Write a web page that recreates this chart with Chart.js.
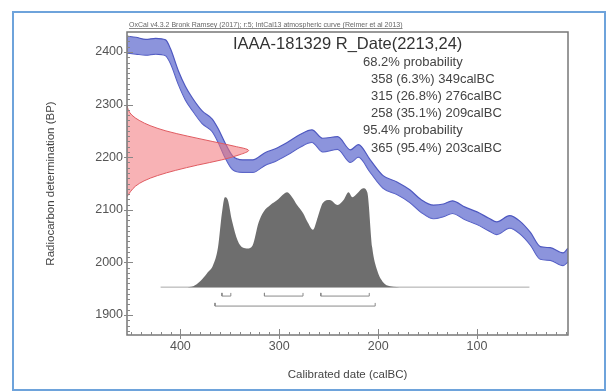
<!DOCTYPE html>
<html>
<head>
<meta charset="utf-8">
<title>IAAA-181329 R_Date(2213,24)</title>
<script src="https://cdn.jsdelivr.net/npm/chart.js@4.4.1/dist/chart.umd.min.js"></script>
<style>
  html, body { margin: 0; padding: 0; background: #fff; }
  canvas { display: block; }
</style>
</head>
<body>
<canvas id="calChart" width="608" height="392"></canvas>
<script>
// Curva de calibración IntCal13 (calBC, BP, error 1 sigma)
var curveCal = [454, 445, 435, 425, 415, 410, 402, 395, 388, 378, 368, 362, 355, 347, 337, 327, 314, 304, 292, 279, 267, 256, 241, 228, 220, 208, 195, 181, 168, 157, 144, 134, 125, 112, 100, 88, 80, 67, 57, 46, 36, 26, 13, 8];
var curveBP = [2414, 2412, 2409, 2411, 2408, 2392, 2351, 2322, 2301, 2276, 2261, 2242, 2214, 2189, 2183, 2183, 2197, 2204, 2216, 2231, 2240, 2223, 2227, 2202, 2212, 2183, 2153, 2141, 2126, 2108, 2096, 2099, 2105, 2093, 2084, 2072, 2065, 2077, 2067, 2045, 2018, 2016, 2006, 2014];
var curveErr = [16, 16, 15, 15, 15, 14, 13, 13, 12, 12, 12, 13, 14, 13, 12, 12, 12, 12, 12, 12, 12, 13, 12, 12, 12, 12, 12, 12, 12, 12, 13, 12, 12, 12, 12, 12, 12, 12, 12, 12, 12, 12, 12, 13];

// Fecha radiocarbónica R_Date(2213,24): probabilidad relativa por nivel BP
var dateBP = [2300, 2290, 2280, 2270, 2260, 2250, 2240, 2230, 2220, 2213, 2205, 2195, 2185, 2175, 2165, 2155, 2145, 2135, 2125];
var dateProb = [0, 0.01, 0.04, 0.1, 0.19, 0.32, 0.5, 0.7, 0.9, 1.0, 0.93, 0.78, 0.58, 0.4, 0.25, 0.14, 0.07, 0.03, 0];

// Distribución calibrada (calBC, probabilidad relativa)
var postCal = [420, 395, 387, 380, 373, 367, 362, 358, 355, 352, 348, 342, 337, 332, 327, 321, 316, 309, 302, 297, 292, 287, 282, 276, 271, 266, 261, 256, 249, 241, 235, 230, 226, 221, 215, 211, 206, 201, 195, 188, 175, 47];
var postProb = [0, 0, 0.01, 0.06, 0.14, 0.22, 0.40, 0.75, 0.91, 0.88, 0.68, 0.47, 0.40, 0.39, 0.42, 0.65, 0.76, 0.83, 0.88, 0.93, 0.96, 0.91, 0.83, 0.75, 0.65, 0.58, 0.71, 0.85, 0.88, 0.83, 0.88, 0.96, 0.91, 0.95, 1.0, 0.96, 0.40, 0.17, 0.05, 0.01, 0, 0];
var postBase = [420, 47];

// Rangos calibrados
var range68 = [[358, 349], [315, 276], [258, 209]];
var range95 = [[365, 203]];

// Ticks y textos
var xTicks = [400, 300, 200, 100];
var yTicks = [1900, 2000, 2100, 2200, 2300, 2400];
var headerText = 'OxCal v4.3.2 Bronk Ramsey (2017); r:5; IntCal13 atmospheric curve (Reimer et al 2013)';
var titleText = 'IAAA-181329 R_Date(2213,24)';
var summaryLines = ['68.2% probability', '358 (6.3%) 349calBC', '315 (26.8%) 276calBC', '258 (35.1%) 209calBC', '95.4% probability', '365 (95.4%) 203calBC'];

// Escalas y dibujo
var xMin = 8, xMax = 454, yMin = 1862, yMax = 2438;
var dateWidth = 123;          // ancho del pico de la fecha en años cal
var postBaseBP = 1953, postScaleBP = 188;
var level68 = 1936, level95 = 1917, bracketTick = 6;
var FONT = "'Liberation Sans', Arial, sans-serif";

var upper = curveCal.map(function (c, i) { return { x: c, y: curveBP[i] + curveErr[i] }; });
var lower = curveCal.map(function (c, i) { return { x: c, y: curveBP[i] - curveErr[i] }; });
var dateShape = dateBP.map(function (b, i) { return { x: xMax - dateProb[i] * dateWidth, y: b }; });
var post = postCal.map(function (c, i) { return { x: c, y: postBaseBP + postProb[i] * postScaleBP }; });

function bracket(r, level) {
    return {
        data: [
            { x: r[0], y: level + bracketTick }, { x: r[0], y: level },
            { x: r[1], y: level }, { x: r[1], y: level + bracketTick }
        ],
        borderColor: '#8a8a8a', borderWidth: 1, fill: false, order: 1
    };
}

var datasets = [
    { data: dateShape, borderColor: '#e05a60', borderWidth: 1, backgroundColor: 'rgba(242,115,120,0.55)', fill: 'shape', tension: 0.35, order: 2 },
    { data: upper, borderColor: 'rgba(78,88,192,1)', borderWidth: 1.2, backgroundColor: 'rgba(115,125,212,0.82)', fill: '+1', cubicInterpolationMode: 'monotone', order: 3 },
    { data: lower, borderColor: 'rgba(78,88,192,1)', borderWidth: 1.2, fill: false, cubicInterpolationMode: 'monotone', order: 3 },
    { data: post, borderWidth: 0, borderColor: 'rgba(0,0,0,0)', backgroundColor: '#6e6e6e', fill: { value: postBaseBP }, cubicInterpolationMode: 'monotone', order: 4 },
    { data: postBase.map(function (c) { return { x: c, y: postBaseBP }; }), borderColor: '#a8a8a8', borderWidth: 1, fill: false, order: 5 }
];
range68.forEach(function (r) { datasets.push(bracket(r, level68)); });
range95.forEach(function (r) { datasets.push(bracket(r, level95)); });

// Marco, marcas menores y textos
var oxcalDecor = {
    id: 'oxcalDecor',
    beforeDraw: function (chart) {
        var ctx = chart.ctx;
        ctx.save();
        ctx.fillStyle = '#fff';
        ctx.fillRect(0, 0, chart.width, chart.height);
        ctx.strokeStyle = '#6ea3db';
        ctx.lineWidth = 2;
        ctx.strokeRect(13, 12, 592, 378);
        ctx.restore();
    },
    afterDraw: function (chart) {
        var ctx = chart.ctx, a = chart.chartArea, xs = chart.scales.x, ys = chart.scales.y;
        ctx.save();
        ctx.strokeStyle = '#777';
        ctx.lineWidth = 1.5;
        ctx.strokeRect(a.left, a.top, a.right - a.left, a.bottom - a.top);

        ctx.lineWidth = 1;
        ctx.strokeStyle = '#888';
        for (var v = 1870; v <= 2430; v += 10) {
            var py = Math.round(ys.getPixelForValue(v)) + 0.5;
            var major = v % 100 === 0;
            ctx.beginPath();
            ctx.moveTo(a.left - (major ? 3 : 0), py);
            ctx.lineTo(a.left + (major ? 6 : 3), py);
            ctx.stroke();
        }
        for (var c = 10; c <= 450; c += 10) {
            var px = Math.round(xs.getPixelForValue(c)) + 0.5;
            var big = c % 100 === 0;
            ctx.beginPath();
            ctx.moveTo(px, a.bottom + (big ? 4 : 0));
            ctx.lineTo(px, a.bottom - (big ? 6 : 3));
            ctx.stroke();
        }

        // cabecera OxCal
        ctx.fillStyle = '#666';
        ctx.font = '7px ' + FONT;
        ctx.textBaseline = 'alphabetic';
        ctx.textAlign = 'left';
        ctx.fillText(headerText, 129, 27);
        var hw = ctx.measureText(headerText).width;
        ctx.strokeStyle = '#888';
        ctx.beginPath();
        ctx.moveTo(129, 28.5);
        ctx.lineTo(129 + hw, 28.5);
        ctx.stroke();

        // título y resumen
        ctx.fillStyle = '#333';
        ctx.textBaseline = 'middle';
        ctx.font = '16.5px ' + FONT;
        ctx.fillText(titleText, 233, 44);
        ctx.font = '13px ' + FONT;
        ctx.fillStyle = '#444';
        summaryLines.forEach(function (t, i) {
            var indent = t.indexOf('probability') >= 0 ? 363 : 371;
            ctx.fillText(t, indent, 62 + i * 17.2);
        });
        ctx.restore();
    }
};

var ctx = document.getElementById('calChart').getContext('2d');
var calChart = new Chart(ctx, {
    type: 'line',
    data: { datasets: datasets },
    options: {
        responsive: false,
        animation: false,
        devicePixelRatio: 1,
        layout: { padding: { left: 14, right: 40, top: 32, bottom: 8 } },
        elements: { point: { radius: 0 } },
        plugins: { legend: { display: false }, tooltip: { enabled: false } },
        scales: {
            x: {
                type: 'linear',
                reverse: true,
                min: xMin,
                max: xMax,
                afterBuildTicks: function (s) { s.ticks = xTicks.map(function (v) { return { value: v }; }); },
                afterFit: function (s) { s.height = 49; },
                grid: { display: false, drawTicks: false },
                border: { display: false },
                ticks: {
                    padding: 4,
                    color: '#555',
                    font: { family: FONT, size: 12.5 },
                    callback: function (v) { return String(v); }
                },
                title: {
                    display: true,
                    text: 'Calibrated date (calBC)',
                    color: '#444',
                    font: { family: FONT, size: 11.5 },
                    padding: { top: 0, bottom: 2 }
                }
            },
            y: {
                type: 'linear',
                min: yMin,
                max: yMax,
                afterBuildTicks: function (s) { s.ticks = yTicks.map(function (v) { return { value: v }; }); },
                afterFit: function (s) { s.width = 113; },
                grid: { display: false, drawTicks: false },
                border: { display: false },
                ticks: {
                    padding: 4,
                    color: '#555',
                    font: { family: FONT, size: 12.5 },
                    callback: function (v) { return String(v); }
                },
                title: {
                    display: true,
                    text: 'Radiocarbon determination (BP)',
                    color: '#444',
                    font: { family: FONT, size: 11.5 },
                    padding: { top: 30, bottom: 0 }
                }
            }
        }
    },
    plugins: [oxcalDecor]
});
</script>
</body>
</html>
